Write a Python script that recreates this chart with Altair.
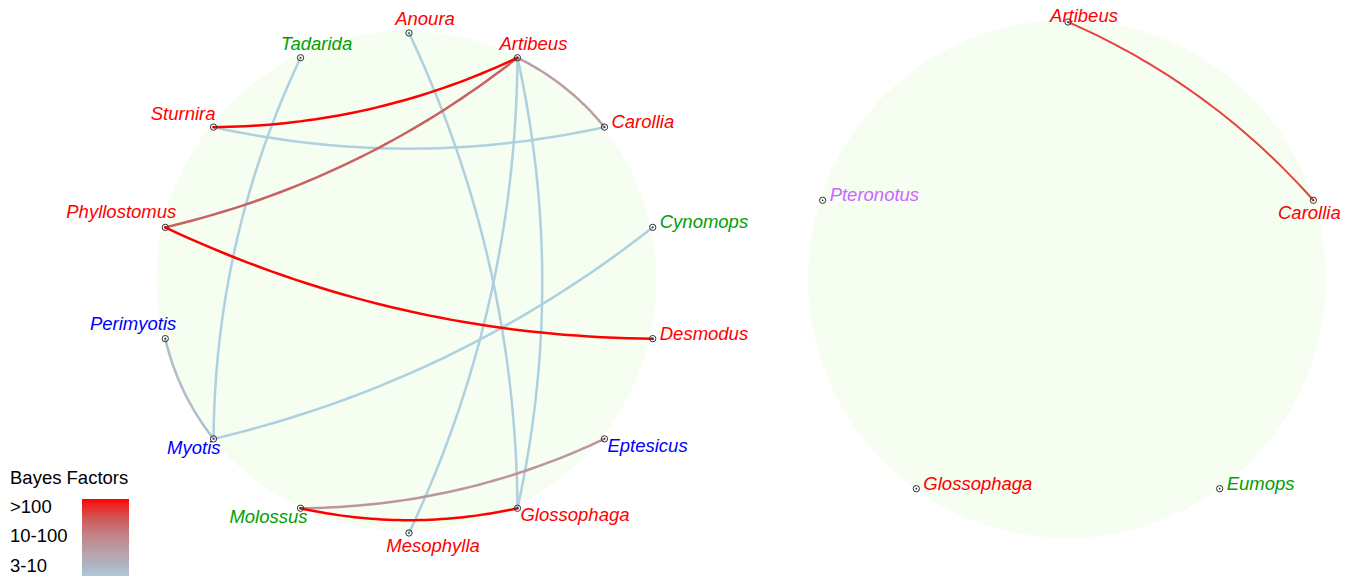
import math
import numpy as np
import pandas as pd
import altair as alt

# ---------------- data ----------------
left_nodes = ["Anoura", "Artibeus", "Carollia", "Cynomops", "Desmodus", "Eptesicus",
              "Glossophaga", "Mesophylla", "Molossus", "Myotis", "Perimyotis",
              "Phyllostomus", "Sturnira", "Tadarida"]
left_families = ["Phyllostomidae", "Phyllostomidae", "Phyllostomidae", "Molossidae",
                 "Phyllostomidae", "Vespertilionidae", "Phyllostomidae", "Phyllostomidae",
                 "Molossidae", "Vespertilionidae", "Vespertilionidae", "Phyllostomidae",
                 "Phyllostomidae", "Molossidae"]
left_label_side = ["N", "N", "E", "E", "E", "SE", "SE", "S", "SW", "SW", "NW", "NW", "NNW", "N"]

right_nodes = ["Artibeus", "Carollia", "Eumops", "Glossophaga", "Pteronotus"]
right_families = ["Phyllostomidae", "Phyllostomidae", "Molossidae", "Phyllostomidae", "Mormoopidae"]
right_label_side = ["N", "SSW", "E", "E", "E"]

left_edge_from = ["Anoura", "Artibeus", "Artibeus", "Artibeus", "Artibeus", "Artibeus",
                  "Carollia", "Cynomops", "Desmodus", "Eptesicus", "Glossophaga", "Myotis", "Myotis"]
left_edge_to = ["Glossophaga", "Carollia", "Glossophaga", "Mesophylla", "Phyllostomus", "Sturnira",
                "Sturnira", "Myotis", "Phyllostomus", "Molossus", "Molossus", "Perimyotis", "Tadarida"]
left_edge_bf = [4, 20, 4, 4, 60, 150, 4, 4, 200, 25, 200, 8, 4]

right_edge_from = ["Artibeus"]
right_edge_to = ["Carollia"]
right_edge_bf = [85]

family_names = ["Phyllostomidae", "Molossidae", "Vespertilionidae", "Mormoopidae"]
family_colors = ["#ff0000", "#00a000", "#0000ff", "#cc66ff"]

bf_stops = [3, 8, 20, 60, 120]
bf_colors = ["#add8e6", "#aebfcc", "#b9a0a8", "#c86262", "#ff0000"]

legend_title = "Bayes Factors"
legend_labels = [">100", "10-100", "3-10"]

# ---------------- layout ----------------
W, H = 1341, 568
PANELS = {
    "left": dict(cx=401, cy=275, r=250, bgx=398.5, bgy=273, bgr=250, width=2.5),
    "right": dict(cx=1060, cy=272, r=258, bgx=1059, bgy=271, bgr=259, width=2.0),
}
CURV = 0.055
LABEL_OFF = {  # dx, dy, align
    "N": (16, -14, "center"),
    "S": (24, 13, "center"),
    "SSW": (-4, 13, "center"),
    "E": (7, -5, "left"),
    "SE": (3, 7, "left"),
    "SW": (7, 9, "right"),
    "NW": (11, -15, "right"),
    "NNW": (2, -13, "right"),
}
LABEL_MIN_Y = 8


def node_table(panel, names, fams, sides):
    p = PANELS[panel]
    n = len(names)
    rows = []
    for i, (nm, fm, sd) in enumerate(zip(names, fams, sides)):
        a = 2 * math.pi * i / n
        x = p["cx"] + p["r"] * math.sin(a)
        y = p["cy"] - p["r"] * math.cos(a)
        dx, dy, al = LABEL_OFF[sd]
        rows.append(dict(panel=panel, name=nm, family=fm, x=x, y=y,
                         lx=x + dx, ly=max(y + dy, LABEL_MIN_Y), align=al))
    return pd.DataFrame(rows)


def edge_table(panel, nodes_df, froms, tos, bfs):
    pos = {r.name: (r.x, r.y) for r in nodes_df.itertuples()}
    order = np.argsort(bfs, kind="stable")
    rows = []
    for rank, k in enumerate(order):
        (x0, y0), (x1, y1) = pos[froms[k]], pos[tos[k]]
        dx, dy = x1 - x0, y1 - y0
        c = math.hypot(dx, dy)
        nx, ny = dy / c, -dx / c
        sag = CURV * c
        mx, my = (x0 + x1) / 2 + 2 * sag * nx, (y0 + y1) / 2 + 2 * sag * ny
        for t in np.linspace(0, 1, 41):
            x = (1 - t) ** 2 * x0 + 2 * t * (1 - t) * mx + t ** 2 * x1
            y = (1 - t) ** 2 * y0 + 2 * t * (1 - t) * my + t ** 2 * y1
            rows.append(dict(panel=panel, eid=f"{panel}{rank:02d}", t=t, x=x, y=y, bf=bfs[k]))
    return pd.DataFrame(rows)


ln = node_table("left", left_nodes, left_families, left_label_side)
rn = node_table("right", right_nodes, right_families, right_label_side)
nodes = pd.concat([ln, rn], ignore_index=True)
edges = pd.concat([edge_table("left", ln, left_edge_from, left_edge_to, left_edge_bf),
                   edge_table("right", rn, right_edge_from, right_edge_to, right_edge_bf)],
                  ignore_index=True)
# vega circle symbol: diameter = sqrt(size)
bg = pd.DataFrame([dict(x=p["bgx"], y=p["bgy"], area=(2 * p["bgr"]) ** 2)
                   for p in PANELS.values()])

xs = alt.Scale(domain=[0, W], range=[0, W])
ys = alt.Scale(domain=[0, H], range=[0, H])
X = lambda f: alt.X(f"{f}:Q", scale=xs, axis=None)
Y = lambda f: alt.Y(f"{f}:Q", scale=ys, axis=None)

background = alt.Chart(bg).mark_circle(color="#f6fdf1", opacity=1).encode(
    x=X("x"), y=Y("y"), size=alt.Size("area:Q", scale=None))

color_bf = alt.Color("bf:Q", scale=alt.Scale(type="log", domain=bf_stops, range=bf_colors,
                                             clamp=True), legend=None)
edge_layers = []
for panel, p in PANELS.items():
    edge_layers.append(
        alt.Chart(edges).transform_filter(alt.datum.panel == panel)
        .mark_line(strokeWidth=p["width"], strokeCap="round")
        .encode(x=X("x"), y=Y("y"), detail="eid:N", order="t:Q", color=color_bf))

ring = alt.Chart(nodes).mark_point(shape="circle", size=40, filled=False, color="#333333",
                                   strokeWidth=1, opacity=1).encode(x=X("x"), y=Y("y"))
dot = alt.Chart(nodes).mark_circle(size=3, color="#333333", opacity=1).encode(x=X("x"), y=Y("y"))

fam_color = alt.Color("family:N", scale=alt.Scale(domain=family_names, range=family_colors),
                      legend=None)
label_layers = []
for al in ["left", "center", "right"]:
    label_layers.append(
        alt.Chart(nodes).transform_filter(alt.datum.align == al)
        .mark_text(align=al, baseline="middle", font="Liberation Sans", fontStyle="italic",
                   fontSize=18.5)
        .encode(x=X("lx"), y=Y("ly"), text="name:N", color=fam_color))

# legend (drawn by hand: title, labels at left, gradient bar)
g_top, g_bot, g_left, g_right = 491, 574, 74, 121
leg_txt = pd.DataFrame(
    [dict(x=2, y=470, text=legend_title)] +
    [dict(x=2, y=g_top + 7.5 + 29.5 * i, text=s) for i, s in enumerate(legend_labels)])
legend_text = alt.Chart(leg_txt).mark_text(align="left", baseline="middle",
                                           font="Liberation Sans", fontSize=18.5,
                                           color="#000000").encode(
    x=X("x"), y=Y("y"), text="text:N")
grad = alt.LinearGradient(
    gradient="linear", x1=0, x2=0, y1=0, y2=1,
    stops=[alt.GradientStop(offset=0.0, color="#ff0000"),
           alt.GradientStop(offset=0.06, color="#f01e1e"),
           alt.GradientStop(offset=0.25, color="#cc5c5c"),
           alt.GradientStop(offset=0.45, color="#c2848a"),
           alt.GradientStop(offset=0.63, color="#b8a0a8"),
           alt.GradientStop(offset=0.80, color="#b0b4c2"),
           alt.GradientStop(offset=1.0, color="#aad6e6")])
legend_bar = alt.Chart(pd.DataFrame({"k": [0]})).mark_rect(fill=grad).encode(
    x=alt.value(g_left), x2=alt.value(g_right), y=alt.value(g_top), y2=alt.value(g_bot))

chart = alt.layer(background, *edge_layers, ring, dot, *label_layers, legend_text, legend_bar) \
    .properties(width=W, height=H, padding=0, autosize="none") \
    .configure_view(stroke=None)

chart.save("out.html", embed_options={"renderer": "svg", "actions": False})
